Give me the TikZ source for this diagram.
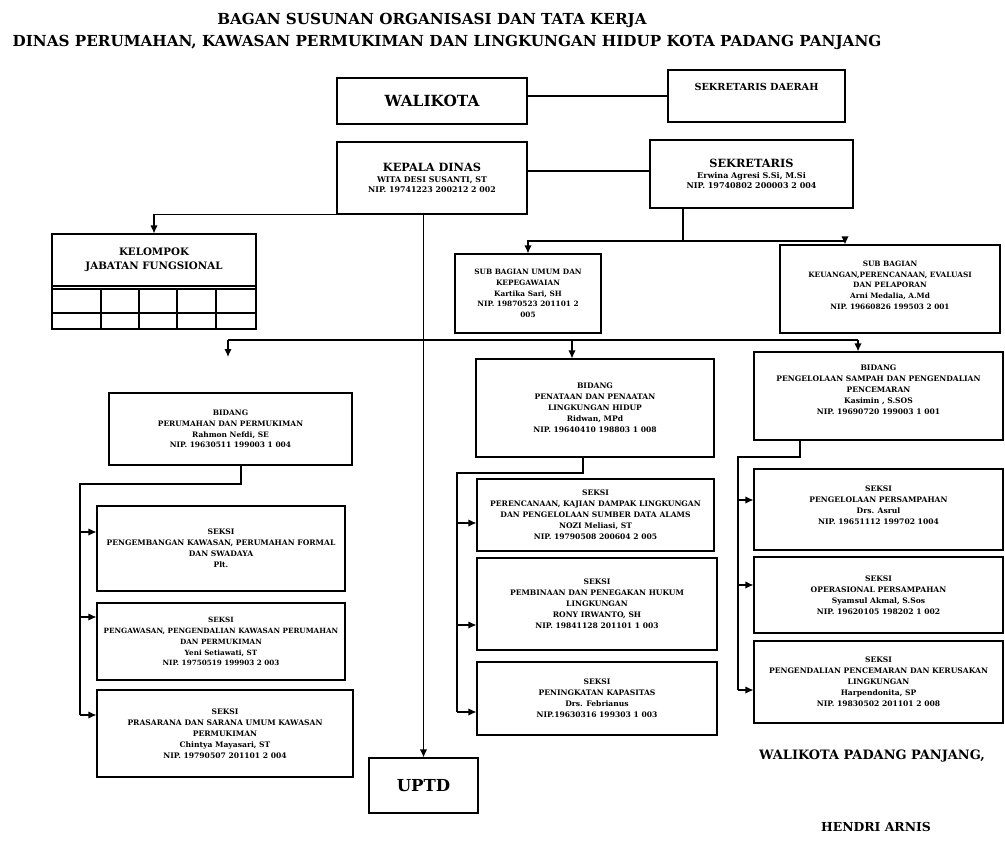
\documentclass[tikz,border=0pt]{standalone}
\usepackage{fontspec}
\setmainfont{DejaVu Serif}
\usetikzlibrary{arrows.meta}
\newcommand{\fs}[2]{\bfseries\fontsize{#1}{#2}\selectfont}
\tikzstyle{box}=[draw, line width=0.8pt, align=center, inner sep=1pt, font=\fs{5.7}{8.2}]
\tikzset{wh/.style 2 args={minimum width=#1*0.75pt, minimum height=#2*0.75pt}}

\begin{document}
\begin{tikzpicture}[x=0.75pt, y=-0.75pt, line width=0.9pt, >={Latex[length=6pt,width=5.5pt]}]
\fill[white] (0,0) rectangle (1005,842);
\useasboundingbox (0,0) rectangle (1005,842);

\node[font=\fs{11.4}{13}] (title1) at (432,20) {BAGAN SUSUNAN ORGANISASI DAN TATA KERJA};
\node[font=\fs{11.4}{13}] (title2) at (447,42) {DINAS PERUMAHAN, KAWASAN PERMUKIMAN DAN LINGKUNGAN HIDUP KOTA PADANG PANJANG};

\node[box, wh={190}{46}, font=\fs{11.5}{14}] (walikota) at (432,101) {WALIKOTA};
\node[box, wh={177}{52}, font=\fs{7.3}{9}, text depth=14pt] (sekda) at (756.5,96) {SEKRETARIS DAERAH};
\node[box, wh={190}{72}, font=\fs{5.9}{7.8}] (kadis) at (432,178) {{\fs{8.5}{11}KEPALA DINAS}\\WITA DESI SUSANTI, ST\\NIP. 19741223 200212 2 002};
\node[box, wh={203}{68}, font=\fs{6}{7.8}] (sekre) at (751.5,174) {{\fs{8.5}{11}SEKRETARIS}\\Erwina Agresi S.Si, M.Si\\NIP. 19740802 200003 2 004};
\node[box, wh={204}{52}, font=\fs{7.7}{10.5}] (jafung) at (154,260) {KELOMPOK\\JABATAN FUNGSIONAL};

\node[box, wh={146}{79}, font=\fs{5.5}{8}] (subum) at (528,293.5) {SUB BAGIAN UMUM DAN\\KEPEGAWAIAN\\Kartika Sari, SH\\NIP. 19870523 201101 2\\005};
\node[box, wh={220}{88}, text depth=6pt, font=\fs{5.5}{8}] (subkeu) at (890,289) {SUB BAGIAN\\KEUANGAN,PERENCANAAN, EVALUASI\\DAN PELAPORAN\\Arni Medalia, A.Md\\NIP. 19660826 199503 2 001};

\node[box, wh={243}{72}, font=\fs{5.6}{8}] (bid1) at (230.5,429) {BIDANG\\PERUMAHAN DAN PERMUKIMAN\\Rahmon Nefdi, SE\\NIP. 19630511 199003 1 004};
\node[box, wh={238}{98}] (bid2) at (595,408) {BIDANG\\PENATAAN DAN PENAATAN\\LINGKUNGAN HIDUP\\Ridwan, MPd\\NIP. 19640410 198803 1 008};
\node[box, wh={249}{88}, text depth=10pt] (bid3) at (878.5,396) {BIDANG\\PENGELOLAAN SAMPAH DAN PENGENDALIAN\\PENCEMARAN\\Kasimin , S.SOS\\NIP. 19690720 199003 1 001};

\node[box, wh={248}{85}] (s1a) at (221,548.5) {SEKSI\\PENGEMBANGAN KAWASAN, PERUMAHAN FORMAL\\DAN SWADAYA\\Plt.};
\node[box, wh={248}{77}, font=\fs{5.4}{8.2}] (s1b) at (221,641.5) {SEKSI\\PENGAWASAN, PENGENDALIAN KAWASAN PERUMAHAN\\DAN PERMUKIMAN\\Yeni Setiawati, ST\\NIP. 19750519 199903 2 003};
\node[box, wh={256}{87}] (s1c) at (225,733.5) {SEKSI\\PRASARANA DAN SARANA UMUM KAWASAN\\PERMUKIMAN\\Chintya Mayasari, ST\\NIP. 19790507 201101 2 004};

\node[box, wh={237}{72}] (s2a) at (595.5,515) {SEKSI\\PERENCANAAN, KAJIAN DAMPAK LINGKUNGAN\\DAN PENGELOLAAN SUMBER DATA ALAMS\\NOZI Meliasi, ST\\NIP. 19790508 200604 2 005};
\node[box, wh={240}{92}] (s2b) at (597,604) {SEKSI\\PEMBINAAN DAN PENEGAKAN HUKUM\\LINGKUNGAN\\RONY IRWANTO, SH\\NIP. 19841128 201101 1 003};
\node[box, wh={240}{73}] (s2c) at (597,698.5) {SEKSI\\PENINGKATAN KAPASITAS\\Drs. Febrianus\\NIP.19630316 199303 1 003};

\node[box, wh={249}{81}, text depth=6pt] (s3a) at (878.5,509.5) {SEKSI\\PENGELOLAAN PERSAMPAHAN\\Drs. Asrul\\NIP. 19651112 199702 1004};
\node[box, wh={249}{76}] (s3b) at (878.5,595) {SEKSI\\OPERASIONAL PERSAMPAHAN\\Syamsul Akmal, S.Sos\\NIP. 19620105 198202 1 002};
\node[box, wh={249}{82}] (s3c) at (878.5,682) {SEKSI\\PENGENDALIAN PENCEMARAN DAN KERUSAKAN\\LINGKUNGAN\\Harpendonita, SP\\NIP. 19830502 201101 2 008};

\node[box, wh={109}{55}, font=\fs{12.4}{14}] (uptd) at (423.5,785.5) {UPTD};

\node[font=\fs{9.7}{12}] (ttd) at (872,756) {WALIKOTA PADANG PANJANG,};
\node[font=\fs{9.3}{11}] (nama) at (876,827) {HENDRI ARNIS};

% tabel jabatan fungsional
\draw[line width=0.8pt] (52,286) rectangle (256,329);
\draw[line width=0.8pt] (52,289) -- (256,289);
\draw[line width=0.8pt] (52,313) -- (256,313);
\foreach \x in {101,139,177,216}
  \draw[line width=0.8pt] (\x,289) -- (\x,329);

\coordinate (sj) at (683,241);
\coordinate (sk) at (845,241);
\coordinate (bl) at (228,340);
\coordinate (bm) at (572,340);
\coordinate (br) at (858,340);
\coordinate (bl2) at (228,357);
\coordinate (g1) at (241,484);
\coordinate (e1) at (80,484);
\coordinate (g2) at (583,473);
\coordinate (e2) at (457,473);
\coordinate (g3) at (800,457);
\coordinate (e3) at (738,457);
\coordinate (a1) at (80,532);
\coordinate (a2) at (80,617);
\coordinate (a3) at (80,715);
\coordinate (c1) at (457,523);
\coordinate (c2) at (457,625);
\coordinate (c3) at (457,712);
\coordinate (d1) at (738,500);
\coordinate (d2) at (738,585);
\coordinate (d3) at (738,690);
\coordinate (hk) at (0,171);

\draw (walikota.east |- sekda.west) -- (sekda.west);
\draw (kadis.east |- hk) -- (sekre.west |- hk);
\draw[->] (kadis.south west) -| (jafung.north);
\draw[->] (kadis.south -| uptd.north) -- (uptd.north);

\draw (sekre.south -| sj) -- (sj);
\draw[->] (sj) -| (subum.north);
\draw[->] (sj) -- (sk) -- (sk |- subkeu.north);

\draw (bl) -- (br);
\draw[->] (bl) -- (bl2);
\draw[->] (bm) -- (bm |- bid2.north);
\draw[->] (br) -- (br |- bid3.north);

\draw (bid1.south -| g1) -- (g1) -- (e1) -- (a3);
\draw[->] (a1) -- (a1 -| s1a.west);
\draw[->] (a2) -- (a2 -| s1b.west);
\draw[->] (a3) -- (a3 -| s1c.west);

\draw (bid2.south -| g2) -- (g2) -- (e2) -- (c3);
\draw[->] (c1) -- (c1 -| s2a.west);
\draw[->] (c2) -- (c2 -| s2b.west);
\draw[->] (c3) -- (c3 -| s2c.west);

\draw (bid3.south -| g3) -- (g3) -- (e3) -- (d3);
\draw[->] (d1) -- (d1 -| s3a.west);
\draw[->] (d2) -- (d2 -| s3b.west);
\draw[->] (d3) -- (d3 -| s3c.west);
\end{tikzpicture}
\end{document}
